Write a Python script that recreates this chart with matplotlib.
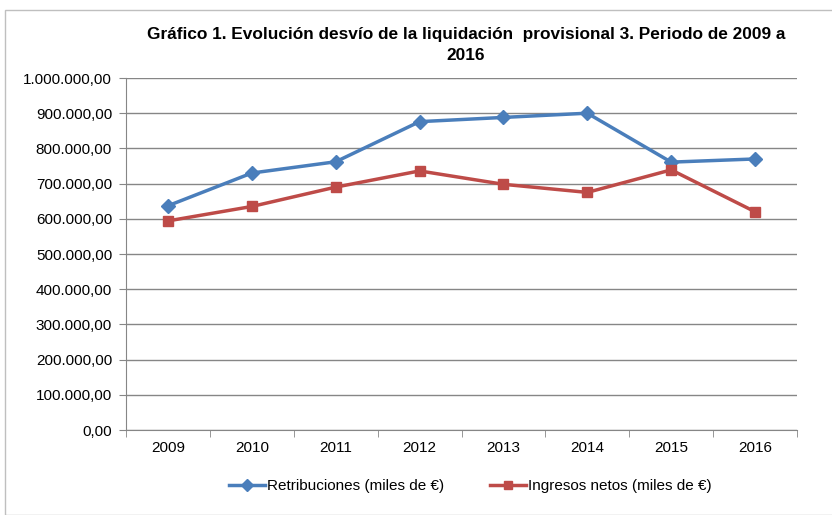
import matplotlib
matplotlib.use("Agg")
import matplotlib.pyplot as plt
from matplotlib.lines import Line2D
import numpy as np

plt.rcParams['font.family'] = ['Liberation Sans', 'DejaVu Sans']

years = ['2009', '2010', '2011', '2012', '2013', '2014', '2015', '2016']
retribuciones = [637000, 730000, 762000, 876000, 888000, 900000, 761000, 770000]
ingresos = [594000, 635000, 690000, 736000, 698000, 675000, 739000, 620000]

blue = '#4A7EBB'
red = '#BE4B48'


def fmt(v):
    s = '{:,.2f}'.format(v)
    return s.replace(',', 'X').replace('.', ',').replace('X', '.')


fig = plt.figure(figsize=(8.32, 5.15), dpi=100)
ax = fig.add_axes([126 / 832, 1 - 430 / 515, 671 / 832, 352 / 515])

# chart border
fig.patches.append(plt.Rectangle((5 / 832, 0), 1, 1 - 10 / 515, transform=fig.transFigure,
                                 fill=False, edgecolor='#BFBFBF', linewidth=1))

x = np.arange(len(years))
ax.plot(x, retribuciones, color=blue, lw=2.5, marker='D', ms=7, mfc=blue, mec=blue)
ax.plot(x, ingresos, color=red, lw=2.5, marker='s', ms=6.5, mfc=red, mec=red)

ax.set_xlim(-0.5, len(years) - 0.5)
ax.set_ylim(0, 1000000)
yt = np.arange(0, 1000001, 100000)
ax.set_yticks(yt)
ax.set_yticklabels([fmt(v) for v in yt], fontsize=11)
ax.set_xticks(x)
ax.set_xticklabels(years, fontsize=11)
ax.set_xticks(np.arange(-0.5, len(years)), minor=True)
ax.tick_params(axis='x', which='major', length=0, pad=8)
ax.tick_params(axis='x', which='minor', length=5, color='#868686')
ax.tick_params(axis='y', length=5, color='#868686', pad=5)
ax.grid(axis='y', color='#868686', lw=1)
ax.set_axisbelow(True)
for s in ['top', 'right']:
    ax.spines[s].set_visible(False)
ax.spines['left'].set_color('#868686')
ax.spines['bottom'].set_color('#868686')

fig.text(466 / 832, 1 - 45 / 515,
         'Gráfico 1. Evolución desvío de la liquidación  provisional 3. Periodo de 2009 a\n2016',
         ha='center', va='center', fontsize=12.4, fontweight='bold', linespacing=1.45)

handles = [Line2D([], [], color=blue, lw=2.5, marker='D', ms=6),
           Line2D([], [], color=red, lw=2.5, marker='s', ms=6)]
fig.legend(handles, ['Retribuciones (miles de €)', 'Ingresos netos (miles de €)'],
           loc='center', bbox_to_anchor=(470 / 832, 1 - 486 / 515), ncol=2, frameon=False,
           fontsize=11, handlelength=2.4, handletextpad=0.1, columnspacing=3.0)

fig.savefig('out.png', dpi=100)
